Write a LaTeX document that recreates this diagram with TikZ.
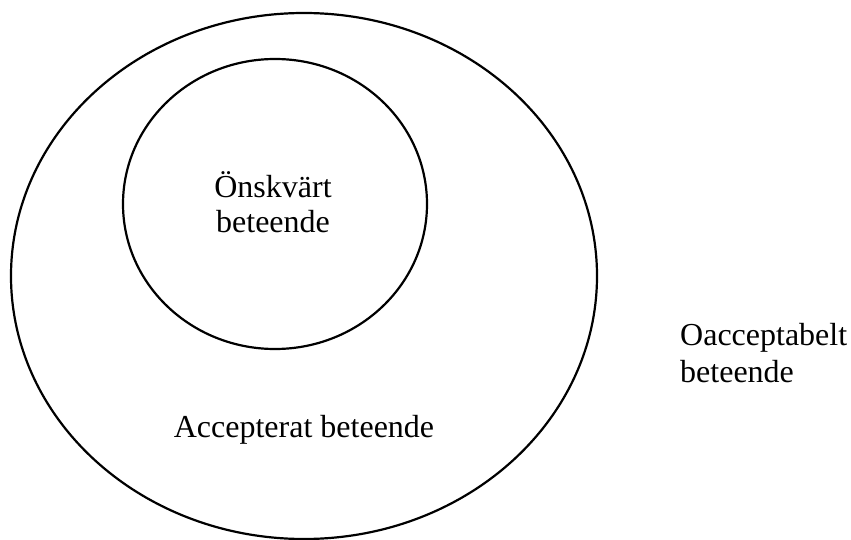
\documentclass[tikz,border=0pt]{standalone}
\usepackage{fontspec}
\setmainfont{Liberation Serif}
\usetikzlibrary{shapes.geometric}
\begin{document}
\begin{tikzpicture}[x=1pt,y=-1pt,
  zone/.style={draw,ellipse,line width=2.2pt,inner sep=0pt},
  textlabel/.style={font=\fontsize{32}{35}\selectfont,inner sep=0pt}]
  \useasboundingbox (0,0) rectangle (851,540);
  \node[zone,minimum width=586pt,minimum height=526pt] (accepted) at (304,276) {};
  \node[zone,minimum width=304pt,minimum height=290pt] (desired) at (275,204) {};
  \node[textlabel,align=center,anchor=base] (desiredtext) at (273,233) {Önskvärt\\beteende};
  \node[textlabel,anchor=base] (acceptedtext) at (304,437) {Accepterat beteende};
  \node[textlabel,align=left,anchor=base west,font=\fontsize{32}{37}\selectfont] (unaccepted) at (680,382) {Oacceptabelt\\beteende};
\end{tikzpicture}
\end{document}
